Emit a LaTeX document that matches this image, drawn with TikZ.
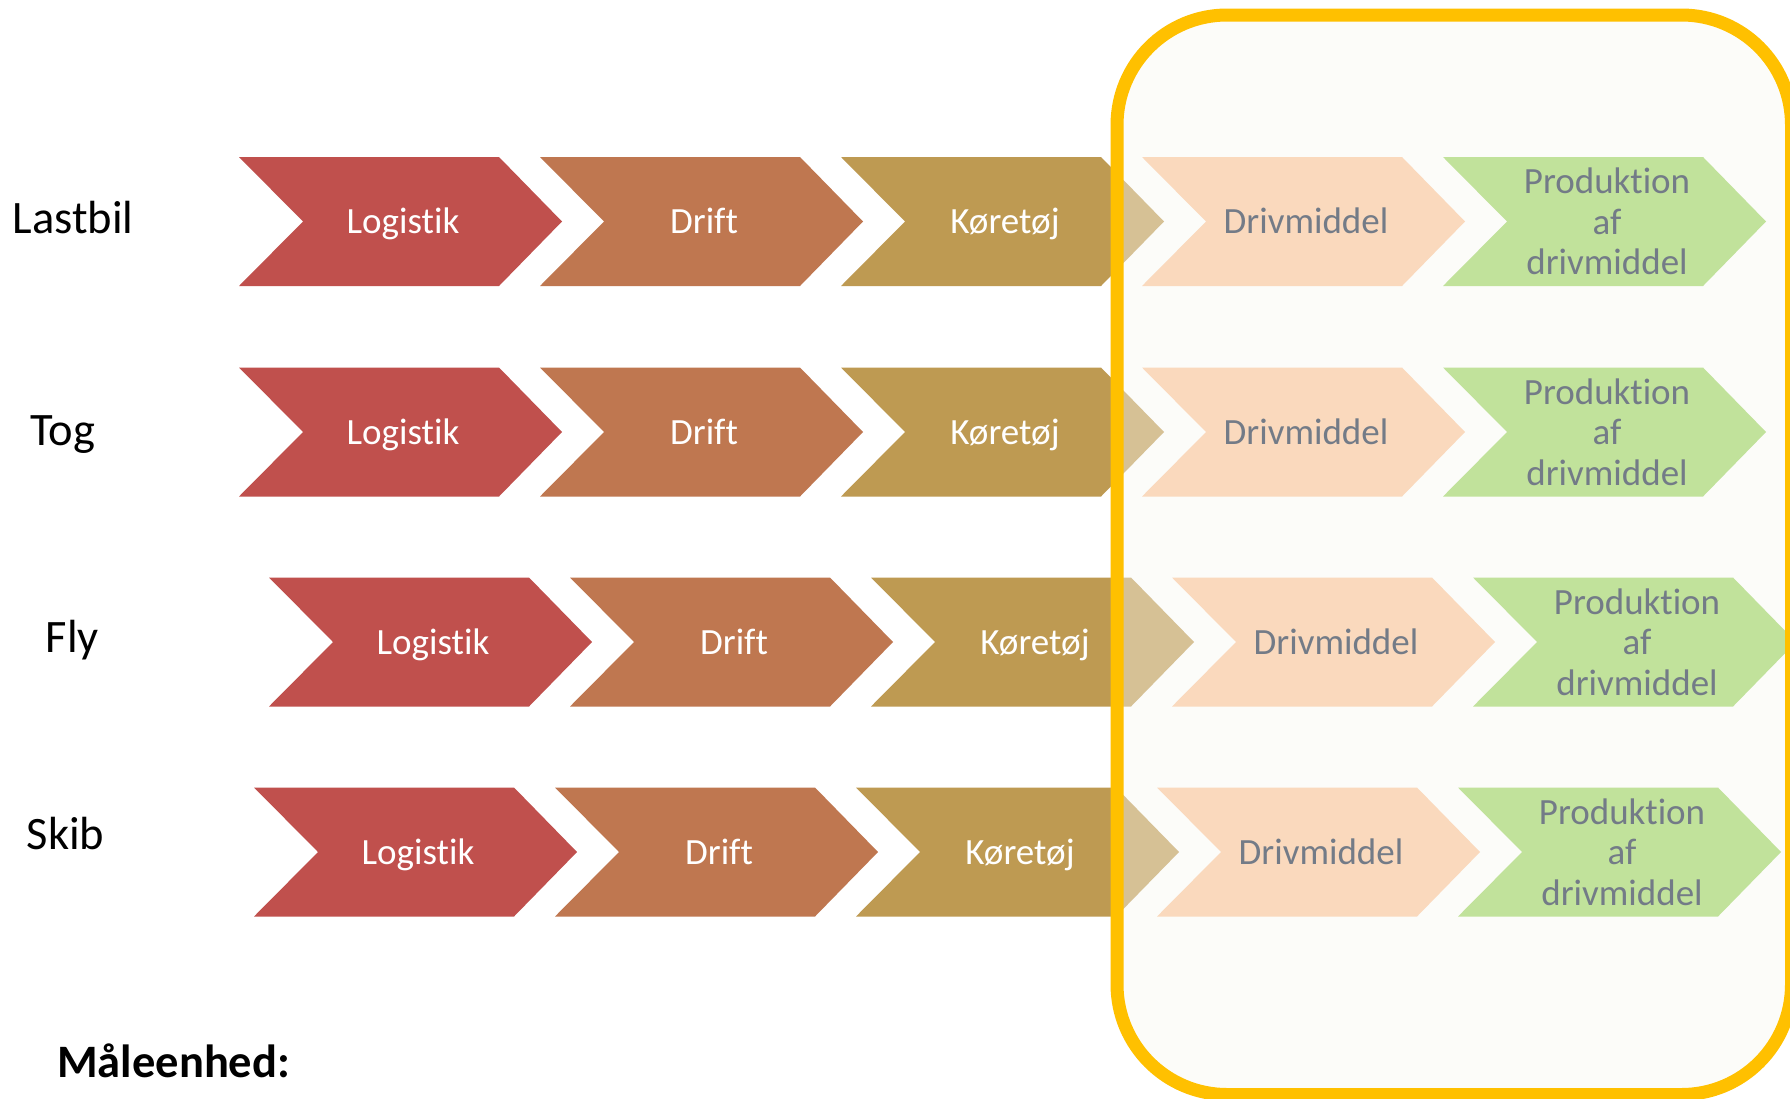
\documentclass[tikz,border=0pt]{standalone}
\usepackage{fontspec}
\setmainfont{Carlito}[Ligatures={NoCommon}]
\definecolor{cred}{HTML}{C0504D}
\definecolor{cdrift}{HTML}{BF7750}
\definecolor{ckor}{HTML}{BE9A52}
\definecolor{cdriv}{HTML}{FAD9BD}
\definecolor{cprod}{HTML}{C1E29B}
\definecolor{cgray}{HTML}{737B87}
\definecolor{corange}{HTML}{FFC000}
\definecolor{covl}{HTML}{F8F8F3}
\tikzset{
  ctext/.style={font=\fontsize{37}{40.5}\selectfont, inner sep=0pt},
  wtext/.style={ctext, text=white, anchor=base},
  gtext/.style={ctext, text=cgray},
  lbl/.style={font=\fontsize{46.5}{50}\selectfont, inner sep=0pt, anchor=base, text=black},
}
\newcommand\chevshape[3]{\fill[#3] (#1,#2) -- ++(260,0) -- ++(63,64.5) -- ++(-63,64.5) -- ++(-260,0) -- ++(64,-64.5) -- cycle;}
\begin{document}
\begin{tikzpicture}[x=1pt,y=-1pt]
\clip (0,0) rectangle (1790,1098);
\fill[white] (0,0) rectangle (1790,1098);
% rows: left part
\foreach \r/\y/\xo/\lab/\lx/\ly in {lastbil/157/239/Lastbil/73/233, tog/367.5/239/Tog/62.5/445, fly/577.5/269/Fly/72.5/652, skib/787.5/254/Skib/65.5/849}{
  \node[lbl] (\r-label) at (\lx,\ly) {\lab};
  \foreach \c/\col/\txt in {0/cred/Logistik, 1/cdrift/Drift, 2/ckor/Køretøj}{
    \pgfmathsetmacro\xx{\xo+301*\c}
    \chevshape{\xx}{\y}{\col}
    \node[wtext] (\r-\c) at (\xx+164,\y+76.5) {\txt};
  }
}
% overlay of the framed region
\fill[covl, fill opacity=0.42, rounded corners=110pt] (1117,15) rectangle (1791.5,1094.5);
% rows: right part
\foreach \r/\y/\xo in {lastbil/157/239, tog/367.5/239, fly/577.5/269, skib/787.5/254}{
  \pgfmathsetmacro\xa{\xo+903}
  \pgfmathsetmacro\xb{\xo+1204}
  \chevshape{\xa}{\y}{cdriv}
  \node[gtext, anchor=base] (\r-3) at (\xa+164,\y+76.5) {Drivmiddel};
  \chevshape{\xb}{\y}{cprod}
  \node[gtext, align=center, anchor=center] (\r-4) at (\xb+164,\y+64.5) {Produktion\\af\\drivmiddel};
}
% frame
\draw[corange, line width=13pt, rounded corners=110pt] (1117,15) rectangle (1791.5,1094.5);
% unit label
\node[lbl, anchor=base west, font=\fontsize{46.5}{50}\selectfont\bfseries] (unit) at (57,1077) {Måleenhed:};
\end{tikzpicture}
\end{document}
